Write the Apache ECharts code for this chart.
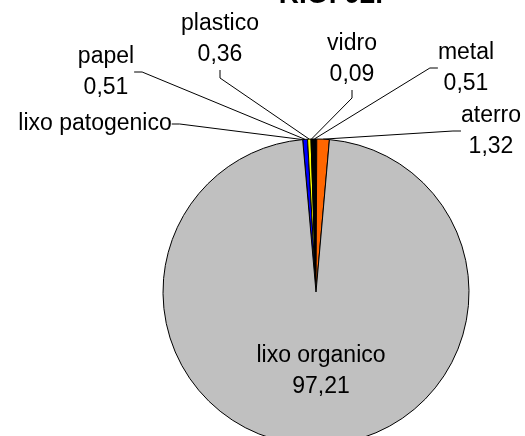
<!DOCTYPE html>
<html>
<head>
<meta charset="utf-8">
<script src="https://cdn.jsdelivr.net/npm/echarts@6/dist/echarts.min.js"></script>
<style>
html,body{margin:0;padding:0;background:#fff;}
#c{width:525px;height:436px;}
</style>
</head>
<body>
<div id="c"></div>
<script>
var titleText = 'RIO. 02.';
var categories = ['lixo patogenico', 'papel', 'plastico', 'vidro', 'metal', 'aterro', 'lixo organico'];
var values = [0, 0.51, 0.36, 0.09, 0.51, 1.32, 97.21];
var colors = ['#000000', '#0000FF', '#FFFF00', '#000000', '#000000', '#FF6600', '#C0C0C0'];

var chart = echarts.init(document.getElementById('c'), null, {renderer: 'canvas'});

var labelSpots = {
  0: [95, 124],
  1: [106, 72],
  2: [220, 39],
  3: [352, 59],
  4: [466, 68],
  5: [491, 131]
};

var data = categories.map(function (n, i) {
  var d = {name: n, value: values[i], itemStyle: {color: colors[i]}};
  if (i === categories.length - 1) {
    d.label = {position: 'inside'};
    d.labelLine = {show: false};
  }
  return d;
});

function fmt(v) { return v.toFixed(2).replace('.', ','); }

chart.setOption({
  animation: false,
  backgroundColor: '#ffffff',
  title: {
    text: titleText,
    left: 326,
    textAlign: 'center',
    top: -24,
    textStyle: {fontFamily: 'Liberation Sans, Arial, sans-serif', fontWeight: 'bold', fontSize: 28, color: '#000'}
  },
  series: [{
    type: 'pie',
    center: [316, 292],
    radius: 153,
    startAngle: 95,
    clockwise: true,
    avoidLabelOverlap: false,
    data: data,
    itemStyle: {borderColor: '#000', borderWidth: 1},
    emphasis: {disabled: true},
    label: {
      show: true,
      position: 'outside',
      fontFamily: 'Liberation Sans, Arial, sans-serif',
      fontSize: 23,
      lineHeight: 31,
      color: '#000',
      align: 'center',
      formatter: function (p) {
        if (p.value === 0) return p.name;
        return p.name + '\n' + fmt(p.value);
      }
    },
    labelLine: {show: true, length: 10, length2: 8, lineStyle: {color: '#000', width: 1}},
    labelLayout: function (p) {
      var s = labelSpots[p.dataIndex];
      if (!s) return {dx: 5};
      return {x: s[0], y: s[1], align: 'center', verticalAlign: 'middle'};
    }
  }]
});
</script>
</body>
</html>
